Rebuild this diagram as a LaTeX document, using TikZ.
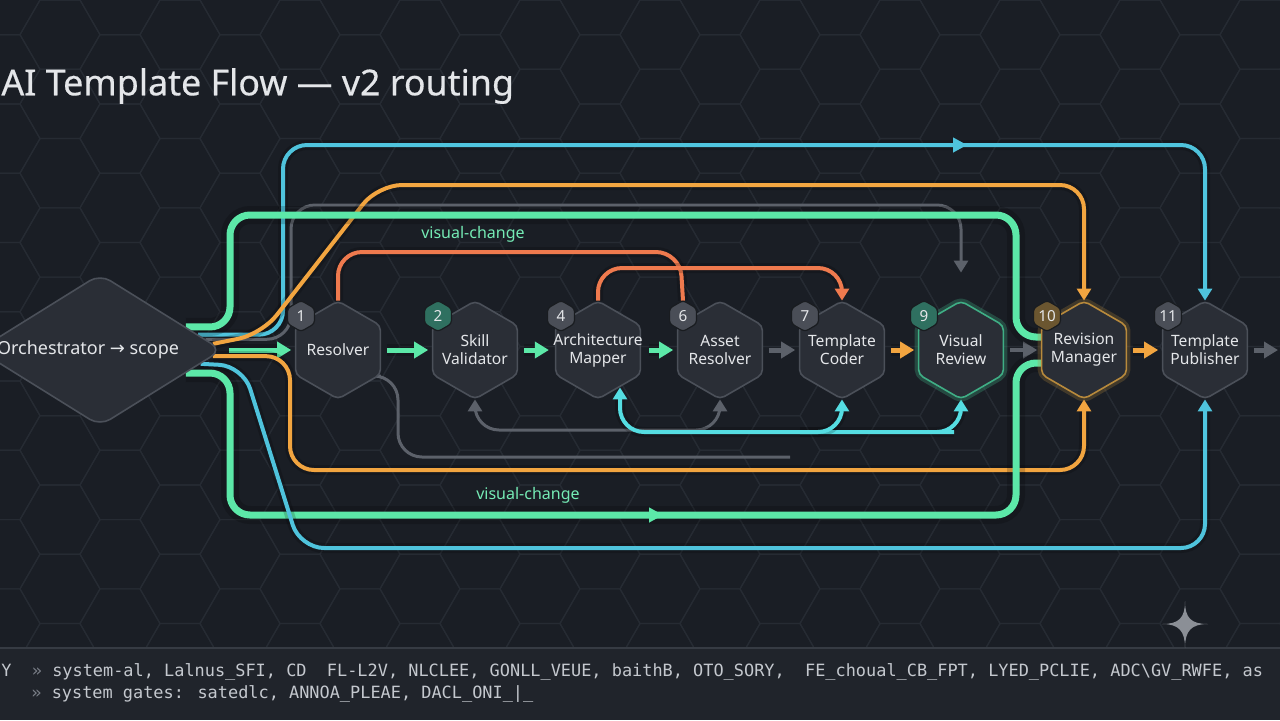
\documentclass[tikz,border=0pt]{standalone}
\usepackage{fontspec}
\setmainfont{Noto Sans}
\newfontfamily\titlefont{Noto Sans}[FakeBold=0.4]
\newfontfamily\codefont{DejaVu Sans Mono}
\newfontfamily\symfont{DejaVu Sans}
\usetikzlibrary{arrows.meta,shapes.geometric,calc,decorations.markings}

\definecolor{bgdark}{HTML}{1A1E25}
\definecolor{footbg}{HTML}{20242B}
\definecolor{footline}{HTML}{363B43}
\definecolor{gridline}{HTML}{262B33}
\definecolor{hexfill}{HTML}{2A2E36}
\definecolor{hexline}{HTML}{4B5059}
\definecolor{hexgreen}{HTML}{3FAE85}
\definecolor{hexgold}{HTML}{B88A3C}
\definecolor{flowgreen}{HTML}{5CE8A8}
\definecolor{flowblue}{HTML}{4FC3DC}
\definecolor{floworange}{HTML}{F2A540}
\definecolor{flowred}{HTML}{EF7A4E}
\definecolor{flowgray}{HTML}{5C616A}
\definecolor{flowteal}{HTML}{55DDE2}
\definecolor{badgegray}{HTML}{4A4E57}
\definecolor{badgegreen}{HTML}{2F7060}
\definecolor{badgegold}{HTML}{6B5630}
\definecolor{txtlight}{HTML}{E4E6E9}
\definecolor{foottxt}{HTML}{C4C8CE}
\definecolor{footdim}{HTML}{7A7F88}
\definecolor{starcol}{HTML}{8B8F96}

\pgfdeclarelayer{back}
\pgfdeclarelayer{edges}
\pgfsetlayers{back,edges,main}

\tikzset{
  hexbox/.style={fill=hexfill, line width=0.8pt, rounded corners=2.5pt},
  hextext/.style={minimum width=42.4pt, minimum height=49pt, inner sep=0pt, align=center, text=txtlight, font=\fontsize{7.8}{9}\selectfont},
  badgebox/.style={draw=black!40!hexfill, line width=0.6pt, rounded corners=1.5pt},
  badgetext/.style={circle, minimum size=15pt, inner sep=0pt, text=txtlight, font=\fontsize{7.6}{8}\selectfont\bfseries},
  glow/.style={preaction={draw, line width=#1, opacity=0.18}},
  flow/.style={line width=2.5pt, -{Triangle[length=7pt,width=8pt]}, shorten >=2pt, shorten <=3pt},
  route/.style={line width=2pt, rounded corners=12pt},
  midtip/.style={postaction={decorate, decoration={markings, mark=at position #1 with {\arrow{Triangle[length=7pt,width=7pt]}}}}},
}

\begin{document}
\begin{tikzpicture}[x=0.5pt, y=-0.5pt, >={Triangle[length=6pt,width=7pt]}, line join=round, line cap=round]
\useasboundingbox (0,0) rectangle (1280,720);

\begin{pgfonlayer}{back}
\fill[bgdark] (0,0) rectangle (1280,720);
\begin{scope}
\clip (0,0) rectangle (1280,648);
\foreach \i in {0,...,22} \foreach \j in {-1,...,10} {
  \pgfmathsetmacro\cx{\i*60}
  \pgfmathsetmacro\cy{\j*69.28+mod(\i,2)*34.64}
  \draw[gridline, line width=0.6pt] (\cx+40,\cy) -- (\cx+20,\cy+34.64) -- (\cx-20,\cy+34.64) -- (\cx-40,\cy) -- (\cx-20,\cy-34.64) -- (\cx+20,\cy-34.64) -- cycle;
}
\end{scope}
\fill[footbg] (0,648) rectangle (1280,720);
\draw[footline, line width=1pt] (0,648) -- (1280,648);
\end{pgfonlayer}

% title
\node[anchor=west, inner sep=0pt, text=txtlight, font=\titlefont\fontsize{17.9}{22}\selectfont] (title) at (1,86) {AI Template Flow — v2 routing};

% entry
\node[diamond, aspect=1.6, minimum width=122pt, minimum height=76pt, inner sep=0pt, fill=hexfill, draw=hexline, line width=0.8pt, rounded corners=6pt, text=txtlight, font=\fontsize{9}{11}\selectfont] (orch) at (100,350) {Orchestrator {\symfont →} scope\kern12pt};

% stages
\foreach \n/\x/\t/\b/\bc/\lc/\g in {r1/338/Resolver/1/badgegray/hexline/0, r2/475/{Skill\\Validator}/2/badgegreen/hexline/0, r4/598/{Architecture\\Mapper}/4/badgegray/hexline/0, r6/720/{Asset\\Resolver}/6/badgegray/hexline/0, r7/842/{Template\\Coder}/7/badgegray/hexline/0, r9/961/{Visual\\Review}/9/badgegreen/hexgreen/0.3, r10/1084/{Revision\\Manager}/10/badgegold/hexgold/0.25, r11/1205/{Template\\Publisher}/11/badgegray/hexline/0} {
  \draw[hexbox, draw=\lc, preaction={draw=\lc, line width=4pt, opacity=\g}, shift={(\x,350)}] (0,-49) -- (42.4,-24.5) -- (42.4,24.5) -- (0,49) -- (-42.4,24.5) -- (-42.4,-24.5) -- cycle;
  \node[hextext] (\n) at (\x,350) {\t};
  \draw[badgebox, fill=\bc, shift={(\x-37,316)}] (0,-15.5) -- (13.4,-7.75) -- (13.4,7.75) -- (0,15.5) -- (-13.4,7.75) -- (-13.4,-7.75) -- cycle;
  \node[badgetext] (b\n) at (\x-37,316) {\b};
}

% free ends
\coordinate (bt) at ($(orch.east)!0.2!(orch.north)$);
\coordinate (gyt) at ($(orch.east)!0.14!(orch.north)$);
\coordinate (ot) at ($(orch.east)!0.08!(orch.north)$);
\coordinate (gt) at ($(orch.east)!0.3!(orch.north)$);
\coordinate (ob) at ($(orch.east)!0.08!(orch.south)$);
\coordinate (bb) at ($(orch.east)!0.18!(orch.south)$);
\coordinate (gb) at ($(orch.east)!0.3!(orch.south)$);
\coordinate (g9) at ($(r9.north)+(0,-28)$);
\coordinate (t4) at ($(r4.south)+(22,-12)$);
\coordinate (tbus) at (800,432);
\coordinate (g1a) at ($(r1.east)+(0,26)$);
\coordinate (g1b) at (790,457);
\coordinate (exit) at (1282,350);

\begin{pgfonlayer}{edges}
% main line
\draw[flow, flowgreen, glow=6pt] (orch.east) -- (r1.west);
\draw[flow, flowgreen, glow=6pt] (r1.east) -- (r2.west);
\draw[flow, flowgreen, glow=6pt] (r2.east) -- (r4.west);
\draw[flow, flowgreen, glow=6pt] (r4.east) -- (r6.west);
\draw[flow, flowgray] (r6.east) -- (r7.west);
\draw[flow, floworange, glow=6pt] (r7.east) -- (r9.west);
\draw[flow, flowgray, line width=2pt] (r9.east) -- (r10.west);
\draw[flow, floworange, glow=6pt] (r10.east) -- (r11.west);
\draw[flow, flowgray] (r11.east) -- (exit);

% routes over the top
\draw[route, flowblue, glow=5pt, ->, midtip=0.71] (bt) -| (283,145) -| (r11.north);
\draw[route, flowgray, line width=1.5pt, ->] (gyt) -| (291,205) -| (g9);
\draw[route, floworange, glow=5pt, ->] (ot) -- (262,334) -- (378,185) -| (r10.north);
\draw[route, flowgreen, line width=3.5pt, glow=9pt, rounded corners=10pt] (gt) -| (230,215) -| (1016,337) -- ($(r10.west)+(0,-13)$);
\draw[route, flowred, glow=5pt] (r1.north) |- (680,252) -- (br6.north);
\draw[route, flowred, glow=5pt, ->] (r4.north) |- (842,268) -- (r7.north);

% routes underneath
\draw[route, flowgray, line width=1.5pt] (g1a) -| (398,457) -- (g1b);
\draw[route, flowgray, line width=1.5pt, <->] (r2.south) |- (600,430) -| (r6.south);
\draw[route, flowteal, glow=5pt, <->] (t4) |- (930,432) -| (r9.south);
\draw[route, flowteal, glow=5pt, ->] (tbus) -| (r7.south);
\draw[route, floworange, glow=5pt, ->] (ob) -| (290,470) -| (r10.south);
\draw[route, flowgreen, line width=3.5pt, glow=9pt, rounded corners=10pt, midtip=0.54] (gb) -| (230,515) -| (1016,363) -- ($(r10.west)+(0,13)$);
\draw[route, flowblue, glow=5pt, ->] (bb) -- (243,366) -- (300,548) -| (r11.south);
\end{pgfonlayer}

\node[text=flowgreen!85!white, font=\fontsize{8}{10}\selectfont] (vc1) at (473,234) {visual-change};
\node[text=flowgreen!85!white, font=\fontsize{8}{10}\selectfont] (vc2) at (528,495) {visual-change};

% footer
\node[anchor=west, inner sep=0pt, text=foottxt, font=\codefont\fontsize{8.45}{10}\selectfont] (foot1) at (1,672) {Y~~{\color{footdim}»}~system-al, Lalnus\_SFI, CD~~FL-L2V, NLCLEE, GONLL\_VEUE, baithB, OTO\_SORY,~~FE\_choual\_CB\_FPT, LYED\_PCLIE, ADC\textbackslash GV\_RWFE, as};
\node[anchor=west, inner sep=0pt, text=foottxt, font=\codefont\fontsize{8.45}{10}\selectfont] (foot2) at (31,694) {{\color{footdim}»}~system gates: satedlc, ANNOA\_PLEAE, DACL\_ONI\_|\_};

% sparkle
\fill[starcol] (1185,601) .. controls (1185,618) and (1191,624) .. (1208,624) .. controls (1191,624) and (1185,631) .. (1185,648) .. controls (1185,631) and (1179,624) .. (1162,624) .. controls (1179,624) and (1185,618) .. (1185,601) -- cycle;
\end{tikzpicture}
\end{document}
